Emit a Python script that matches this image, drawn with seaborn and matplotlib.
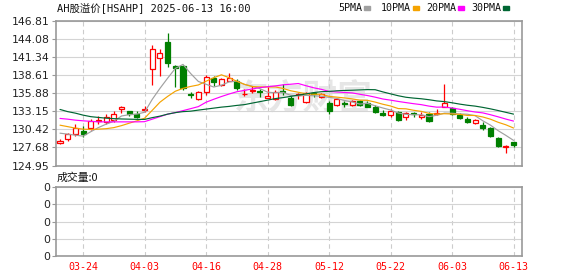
import numpy as np
import pandas as pd
import matplotlib
matplotlib.use("Agg")
import matplotlib.pyplot as plt
from matplotlib.patches import Rectangle
import seaborn as sns

# ---------------- data ----------------
dates = ["03-19", "03-20", "03-21", "03-24", "03-25", "03-26", "03-27", "03-28", "03-31",
         "04-01", "04-02", "04-03", "04-07", "04-08", "04-09", "04-10", "04-11", "04-14",
         "04-15", "04-16", "04-17", "04-18", "04-21", "04-22", "04-23", "04-24", "04-25",
         "04-28", "04-29", "04-30", "05-02", "05-06", "05-07", "05-08", "05-09", "05-12",
         "05-13", "05-14", "05-15", "05-16", "05-19", "05-20", "05-21", "05-22", "05-23",
         "05-26", "05-27", "05-28", "05-29", "05-30", "06-02", "06-03", "06-04", "06-05",
         "06-06", "06-09", "06-10", "06-11", "06-12", "06-13"]
opens = [128.35, 128.89, 129.64, 130.19, 130.55, 131.70, 131.55, 131.81, 133.43, 133.17,
         132.67, 133.30, 139.49, 141.16, 143.58, 139.99, 139.99, 135.70, 135.00, 136.01,
         138.13, 137.11, 137.77, 137.77, 135.70, 136.20, 136.15, 135.19, 134.99, 136.15,
         135.19, 135.55, 134.58, 135.90, 135.34, 134.43, 134.08, 134.35, 134.08, 134.69,
         134.34, 133.83, 132.92, 132.57, 132.98, 132.22, 132.90, 132.35, 132.67, 132.75,
         133.83, 133.68, 132.57, 131.92, 131.31, 131.05, 130.55, 129.04, 127.77, 128.43]
highs = [128.95, 129.89, 131.16, 130.95, 131.92, 132.42, 132.72, 133.22, 133.93, 133.25,
         133.22, 133.93, 143.17, 142.57, 144.95, 140.14, 140.10, 136.10, 136.20, 138.63,
         138.48, 138.13, 138.98, 138.10, 136.51, 136.96, 136.45, 136.77, 136.30, 137.26,
         135.45, 135.86, 136.00, 136.10, 135.90, 134.69, 135.10, 134.74, 134.80, 134.90,
         134.69, 134.08, 133.33, 133.43, 133.22, 133.07, 133.07, 132.98, 132.98, 133.43,
         137.26, 133.83, 132.83, 132.31, 131.96, 131.55, 130.80, 129.20, 128.02, 128.52]
lows = [128.25, 128.63, 129.39, 129.28, 130.30, 131.16, 131.21, 131.55, 132.92, 132.50,
        132.16, 133.07, 137.11, 138.52, 139.89, 136.81, 136.36, 135.10, 134.90, 135.60,
        136.96, 136.96, 137.70, 136.40, 135.50, 135.86, 135.34, 135.10, 134.80, 135.60,
        133.93, 134.99, 134.40, 135.34, 135.20, 132.72, 133.90, 133.83, 133.90, 133.93,
        133.74, 132.92, 132.46, 132.31, 131.71, 131.81, 132.22, 131.96, 131.50, 132.57,
        133.83, 132.60, 132.00, 131.40, 131.16, 130.30, 129.19, 127.70, 126.86, 127.77]
closes = [128.70, 129.64, 130.55, 129.74, 131.66, 131.85, 132.22, 132.72, 133.74, 132.67,
          132.31, 133.55, 142.52, 142.01, 140.40, 139.69, 136.61, 135.60, 136.01, 138.28,
          137.61, 137.98, 138.13, 136.61, 135.75, 136.30, 136.10, 135.49, 136.10, 136.05,
          134.08, 135.70, 135.86, 135.80, 135.70, 133.22, 134.95, 134.25, 134.69, 134.08,
          133.83, 133.07, 132.57, 133.17, 131.81, 132.83, 132.75, 132.57, 131.71, 132.90,
          134.43, 132.67, 132.07, 131.46, 131.81, 130.55, 129.39, 127.87, 127.92, 128.02]

# moving-average values at the left edge (their windows start before the chart)
ma5_lead = [129.84, 129.69, 129.54, 129.39]
ma10_lead = [131.05, 130.83, 130.60, 130.45, 130.40, 130.45, 130.52, 130.68, 130.98]
ma20_lead = [132.07, 131.96, 131.81, 131.71, 131.63, 131.55, 131.55, 131.55, 131.55, 131.55,
             131.55, 131.58, 131.96, 132.34, 132.72, 132.95, 133.25, 133.55, 133.86]
ma30_lead = [133.43, 133.10, 132.87, 132.57, 132.34, 132.22, 132.11, 132.04, 131.99, 131.96,
             131.93, 131.92, 132.19, 132.42, 132.72, 132.95, 133.10, 133.17, 133.33, 133.48,
             133.63, 133.78, 133.89, 134.04, 134.16, 134.39, 134.61, 134.84, 135.07]

volume = [0] * 60

ytick_labels = ["124.95", "127.68", "130.42", "133.15", "135.88",
                "138.61", "141.34", "144.08", "146.81"]
xtick_labels = ["03-24", "04-03", "04-16", "04-28", "05-12", "05-22", "06-03", "06-13"]

ma_names = ["5PMA", "10PMA", "20PMA", "30PMA"]
ma_colors = ["#a0a0a0", "#f5a300", "#ff00ff", "#006633"]
UP, DOWN = "#ff0000", "#007f00"

# ---------------- build frame ----------------
df = pd.DataFrame({"date": dates, "open": opens, "high": highs, "low": lows,
                   "close": closes, "volume": volume})
df["i"] = np.arange(len(df))
leads = [ma5_lead, ma10_lead, ma20_lead, ma30_lead]
for name, n, lead in zip(ma_names, [5, 10, 20, 30], leads):
    s = df["close"].rolling(n).mean()
    s.iloc[:len(lead)] = lead
    df[name] = s

# ---------------- figure ----------------
sns.set_theme(style="white")
plt.rcParams["font.family"] = ["DejaVu Sans", "Noto Sans CJK SC"]
mono = ["DejaVu Sans Mono", "Noto Sans CJK SC"]

W, H = 578, 276
fig = plt.figure(figsize=(W / 100, H / 100), dpi=100)
fig.patch.set_facecolor("white")


def rect(l, t, r, b):
    return [l / W, 1 - b / H, (r - l) / W, (b - t) / H]


ax = fig.add_axes(rect(56, 21, 522, 165.5))
axv = fig.add_axes(rect(56, 187, 522, 256))

yvals = [float(v) for v in ytick_labels]
xpos = [dates.index(d) for d in xtick_labels]
xlim = (-0.52, 60.1)

# watermark
ax.text(0.53, 0.47, "东方财富", transform=ax.transAxes, ha="center", va="center",
        fontsize=25, color="#e6e6e6", fontweight="bold", style="italic",
        family=["Noto Sans CJK SC"], zorder=0.5)

# candles
bw = 0.66
for _, r in df.iterrows():
    up = r["close"] >= r["open"]
    col = UP if up else DOWN
    lo_b, hi_b = min(r["open"], r["close"]), max(r["open"], r["close"])
    hgt = max(hi_b - lo_b, 0.02)
    ax.vlines(r["i"], r["low"], r["high"], color=col, lw=0.9, zorder=2)
    ax.bar(r["i"], hgt, bottom=lo_b, width=bw,
           facecolor="white" if up else DOWN, edgecolor=col, linewidth=0.9, zorder=3)

# moving averages
for name, c in zip(ma_names, ma_colors):
    sns.lineplot(data=df, x="i", y=name, ax=ax, color=c, lw=0.85, zorder=4, legend=False)

ax.set_xlim(*xlim)
ax.set_ylim(yvals[0], yvals[-1])
ax.set_yticks(yvals)
ax.set_yticklabels(ytick_labels)
ax.set_xticks(xpos)
ax.set_xlabel("")
ax.set_ylabel("")
ax.tick_params(axis="x", length=0, labelbottom=False)
ax.tick_params(axis="y", length=3, width=0.8, color="#999999", labelsize=7.8,
               labelcolor="#222222", pad=1.5, left=True)
ax.grid(axis="y", color="#d4d4d4", lw=0.8, ls="-", zorder=0)
ax.grid(axis="x", color="#cccccc", lw=0.8, ls=(0, (4, 3)), zorder=0)
ax.set_axisbelow(True)

# volume panel
sns.lineplot(data=df, x="i", y="volume", ax=axv, color="#ffffff", lw=0, legend=False)
axv.set_xlim(*xlim)
axv.set_ylim(0, 4)
axv.set_yticks([0, 1, 2, 3, 4])
axv.set_yticklabels(["0"] * 5)
axv.set_xticks(xpos)
axv.set_xticklabels(xtick_labels, family=mono, fontsize=7.2, color="#ff0000")
axv.set_xlabel("")
axv.set_ylabel("")
axv.tick_params(axis="x", length=0, pad=4)
axv.tick_params(axis="y", length=3, width=0.8, color="#999999", labelsize=7.8,
                labelcolor="#222222", pad=1.5, left=True)
axv.grid(axis="y", color="#d4d4d4", lw=0.8, ls="-")
axv.grid(axis="x", color="#cccccc", lw=0.8, ls=(0, (4, 3)))

for a in (ax, axv):
    for sp in a.spines.values():
        sp.set_color("#999999")
        sp.set_linewidth(1.2)
        sp.set_visible(True)

# texts
fig.text(57 / W, 1 - 8 / H, "AH股溢价[HSAHP] 2025-06-13 16:00", family=mono,
         fontsize=7.5, color="#111111", ha="left", va="center")
fig.text(57 / W, 1 - 178 / H, "成交量:0", family=["Noto Sans CJK SC", "DejaVu Sans"],
         fontsize=7.8, color="#111111", ha="left", va="center")

# legend
lx = [338, 381, 426, 471]
for x0, name, c in zip(lx, ma_names, ma_colors):
    fig.text(x0 / W, 1 - 8 / H, name, family=mono, fontsize=7.2,
             color="#111111", ha="left", va="center")
    sq_x = x0 + len(name) * 5.9 + 2
    fig.patches.append(Rectangle((sq_x / W, 1 - 10 / H), 6 / W, 4 / H,
                                 transform=fig.transFigure, color=c, figure=fig))

fig.savefig("out.png", dpi=100, facecolor="white")
